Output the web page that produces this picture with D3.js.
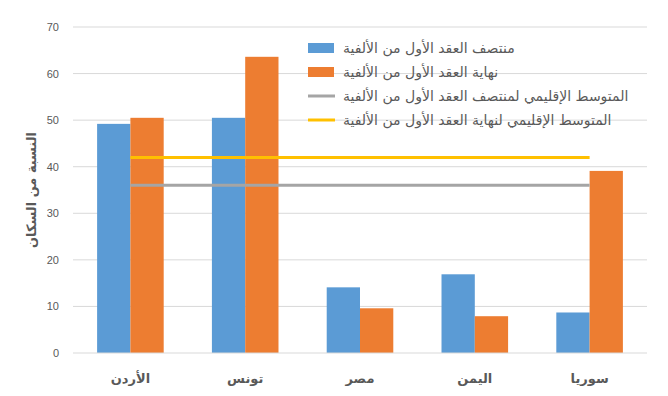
<!DOCTYPE html>
<html>
<head>
<meta charset="utf-8">
<script src="https://cdn.jsdelivr.net/npm/d3@7"></script>
<style>
  body { margin: 0; background: #fff; }
  text { font-family: "DejaVu Sans", sans-serif; }
</style>
</head>
<body>
<svg id="chart"></svg>
<script>
// Data
const countries = ["الأردن", "تونس", "مصر", "اليمن", "سوريا"];
const midDecade = [49.2, 50.5, 14.1, 16.9, 8.7];
const endDecade = [50.5, 63.6, 9.6, 7.9, 39.1];
const avgMid = 36;
const avgEnd = 42;
const yTicks = [0, 10, 20, 30, 40, 50, 60, 70];
const seriesNames = [
    "منتصف العقد الأول من الألفية",
    "نهاية العقد الأول من الألفية",
    "المتوسط الإقليمي لمنتصف العقد الأول من الألفية",
    "المتوسط الإقليمي لنهاية العقد الأول من الألفية"
];

const dimensions = {
    width: 668,
    height: 396,
    margin: { top: 27, right: 21, bottom: 43, left: 73 }
};
const innerW = dimensions.width - dimensions.margin.left - dimensions.margin.right;
const innerH = dimensions.height - dimensions.margin.top - dimensions.margin.bottom;

const colors = ["#5B9BD5", "#ED7D31", "#A5A5A5", "#FFC000"];

const svg = d3.select("#chart")
    .attr("width", dimensions.width)
    .attr("height", dimensions.height);

const g = svg.append("g")
    .attr("transform", `translate(${dimensions.margin.left}, ${dimensions.margin.top})`);

const xScale = d3.scaleBand()
    .domain(countries)
    .range([0, innerW])
    .paddingInner(0.42)
    .paddingOuter(0.21);

const xInner = d3.scaleBand()
    .domain([0, 1])
    .range([0, xScale.bandwidth()]);

const yScale = d3.scaleLinear()
    .domain([0, 70])
    .range([innerH, 0]);

// gridlines
g.append("g")
    .selectAll("line")
    .data(yTicks.slice(1))
    .enter()
    .append("line")
    .attr("x1", 0)
    .attr("x2", innerW)
    .attr("y1", d => yScale(d))
    .attr("y2", d => yScale(d))
    .attr("stroke", "#D9D9D9")
    .attr("stroke-width", 1);

// y axis labels
const yAxis = g.append("g")
    .call(d3.axisLeft(yScale).tickValues(yTicks).tickSize(0).tickPadding(14));
yAxis.select(".domain").remove();
yAxis.selectAll("text")
    .attr("fill", "#595959")
    .style("font-size", "11px")
    .style("font-family", "Liberation Sans, sans-serif");

// bars
const rows = countries.map((c, i) => ({ country: c, values: [midDecade[i], endDecade[i]] }));
g.selectAll(".group")
    .data(rows)
    .enter()
    .append("g")
    .attr("class", "group")
    .attr("transform", d => `translate(${xScale(d.country)}, 0)`)
    .selectAll("rect")
    .data(d => d.values.map((v, k) => ({ k: k, v: v })))
    .enter()
    .append("rect")
    .attr("x", d => xInner(d.k))
    .attr("width", xInner.bandwidth())
    .attr("y", d => yScale(d.v))
    .attr("height", d => innerH - yScale(d.v))
    .attr("fill", d => colors[d.k]);

// x axis baseline
g.append("line")
    .attr("x1", 0)
    .attr("x2", innerW)
    .attr("y1", innerH)
    .attr("y2", innerH)
    .attr("stroke", "#D9D9D9");

// category labels
g.selectAll(".cat")
    .data(countries)
    .enter()
    .append("text")
    .attr("class", "cat")
    .attr("x", d => xScale(d) + xScale.bandwidth() / 2)
    .attr("y", innerH + 30)
    .attr("text-anchor", "middle")
    .attr("fill", "#595959")
    .style("font-size", "13px")
    .style("font-weight", "bold")
    .text(d => d);

// regional average lines (from first to last category centre)
const cx = c => xScale(c) + xScale.bandwidth() / 2;
[[avgMid, colors[2]], [avgEnd, colors[3]]].forEach(([v, col]) => {
    g.append("line")
        .attr("x1", cx(countries[0]))
        .attr("x2", cx(countries[countries.length - 1]))
        .attr("y1", yScale(v))
        .attr("y2", yScale(v))
        .attr("stroke", col)
        .attr("stroke-width", 3);
});

// y axis title
svg.append("text")
    .attr("transform", `translate(36, ${dimensions.margin.top + innerH / 2}) rotate(-90)`)
    .attr("text-anchor", "middle")
    .attr("fill", "#595959")
    .style("font-size", "13px")
    .style("font-weight", "bold")
    .text("النسبة من السكان");

// legend
const legend = svg.selectAll(".legend")
    .data(seriesNames)
    .enter()
    .append("g")
    .attr("class", "legend")
    .attr("transform", (d, i) => `translate(308, ${48 + i * 24})`);

legend.each(function(d, i) {
    const el = d3.select(this);
    if (i < 2) {
        el.append("rect")
            .attr("x", 0)
            .attr("y", -5)
            .attr("width", 26)
            .attr("height", 10)
            .attr("fill", colors[i]);
    } else {
        el.append("line")
            .attr("x1", 0)
            .attr("x2", 27)
            .attr("y1", 0)
            .attr("y2", 0)
            .attr("stroke", colors[i])
            .attr("stroke-width", 3);
    }
});

legend.append("text")
    .attr("x", 35)
    .attr("y", 0)
    .attr("dy", "0.35em")
    .attr("fill", "#595959")
    .style("font-size", "14px")
    .text(d => d);
</script>
</body>
</html>
